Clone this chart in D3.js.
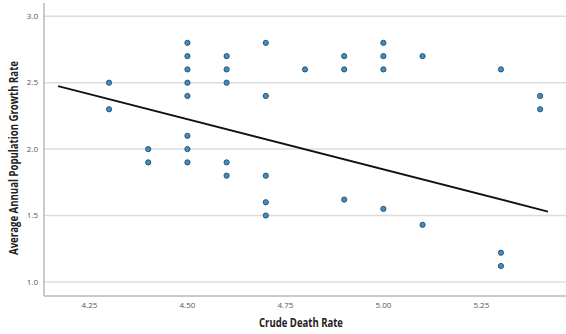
<!DOCTYPE html>
<html>
<head>
<meta charset="utf-8">
<script src="https://cdn.jsdelivr.net/npm/d3@7"></script>
<style>
  body { margin: 0; background: #fff; }
  svg { display: block; }
  .tick-label { font-family: "Open Sans", sans-serif; font-size: 8px; fill: #555; }
  .axis-label { font-family: "Open Sans", sans-serif; font-size: 12px; font-weight: bold; fill: #222; }
</style>
</head>
<body>
<svg id="chart" width="566" height="334"></svg>
<script>
// crude death rate (x) and population growth rate (y)
const deathRate = [
  4.3, 4.3,
  4.4, 4.4,
  4.5, 4.5, 4.5, 4.5, 4.5, 4.5, 4.5, 4.5,
  4.6, 4.6, 4.6, 4.6, 4.6,
  4.7, 4.7, 4.7, 4.7, 4.7,
  4.8,
  4.9, 4.9, 4.9,
  5.0, 5.0, 5.0, 5.0,
  5.1, 5.1,
  5.3, 5.3, 5.3,
  5.4, 5.4
];
const growthRate = [
  2.5, 2.3,
  2.0, 1.9,
  2.8, 2.7, 2.6, 2.5, 2.4, 2.1, 2.0, 1.9,
  2.7, 2.6, 2.5, 1.9, 1.8,
  2.8, 2.4, 1.8, 1.6, 1.5,
  2.6,
  2.7, 2.6, 1.62,
  2.8, 2.7, 2.6, 1.55,
  2.7, 1.43,
  2.6, 1.22, 1.12,
  2.4, 2.3
];
// fit line end points
const fitX = [4.17, 5.42];
const fitY = [2.475, 1.53];

const xTicks = [4.25, 4.50, 4.75, 5.00, 5.25];
const yTicks = [1.0, 1.5, 2.0, 2.5, 3.0];

const svg = d3.select("#chart");

const plot = { left: 44, right: 566, top: 3, bottom: 296 };

const x = d3.scaleLinear().domain([4.134, 5.466]).range([plot.left, plot.right]);
const y = d3.scaleLinear().domain([0.894, 3.10]).range([plot.bottom, plot.top]);

// gridlines
svg.append("g")
  .selectAll("line")
  .data(yTicks)
  .join("line")
  .attr("x1", plot.left)
  .attr("x2", plot.right)
  .attr("y1", d => y(d))
  .attr("y2", d => y(d))
  .attr("stroke", "#dcdcdc")
  .attr("stroke-width", 1.5);

// axes lines
svg.append("line")
  .attr("x1", plot.left).attr("x2", plot.left)
  .attr("y1", plot.top).attr("y2", plot.bottom)
  .attr("stroke", "#b8b8b8").attr("stroke-width", 1.5);
svg.append("line")
  .attr("x1", plot.left).attr("x2", plot.right)
  .attr("y1", plot.bottom).attr("y2", plot.bottom)
  .attr("stroke", "#b8b8b8").attr("stroke-width", 1.5);

// tick labels
svg.append("g")
  .selectAll("text")
  .data(yTicks)
  .join("text")
  .attr("class", "tick-label")
  .attr("x", 38)
  .attr("y", d => y(d))
  .attr("dy", "0.35em")
  .attr("text-anchor", "end")
  .text(d3.format(".1f"));

svg.append("g")
  .selectAll("text")
  .data(xTicks)
  .join("text")
  .attr("class", "tick-label")
  .attr("x", d => x(d))
  .attr("y", 305)
  .attr("dy", "0.35em")
  .attr("text-anchor", "middle")
  .text(d3.format(".2f"));

// points
svg.append("g")
  .selectAll("circle")
  .data(deathRate.map((d, i) => [d, growthRate[i]]))
  .join("circle")
  .attr("cx", d => x(d[0]))
  .attr("cy", d => y(d[1]))
  .attr("r", 2.6)
  .attr("fill", "#4a8ab8")
  .attr("stroke", "#24577d")
  .attr("stroke-width", 1);

// fit line
svg.append("line")
  .attr("x1", x(fitX[0])).attr("y1", y(fitY[0]))
  .attr("x2", x(fitX[1])).attr("y2", y(fitY[1]))
  .attr("stroke", "#111")
  .attr("stroke-width", 1.8);

// axis titles
svg.append("text")
  .attr("class", "axis-label")
  .attr("transform", "translate(14,158) rotate(-90)")
  .attr("text-anchor", "middle")
  .attr("dy", "0.35em")
  .attr("textLength", 194)
  .attr("lengthAdjust", "spacingAndGlyphs")
  .text("Average Annual Population Growth Rate");

svg.append("text")
  .attr("class", "axis-label")
  .attr("x", 301)
  .attr("y", 323)
  .attr("dy", "0.35em")
  .attr("text-anchor", "middle")
  .attr("textLength", 84)
  .attr("lengthAdjust", "spacingAndGlyphs")
  .text("Crude Death Rate");
</script>
</body>
</html>
